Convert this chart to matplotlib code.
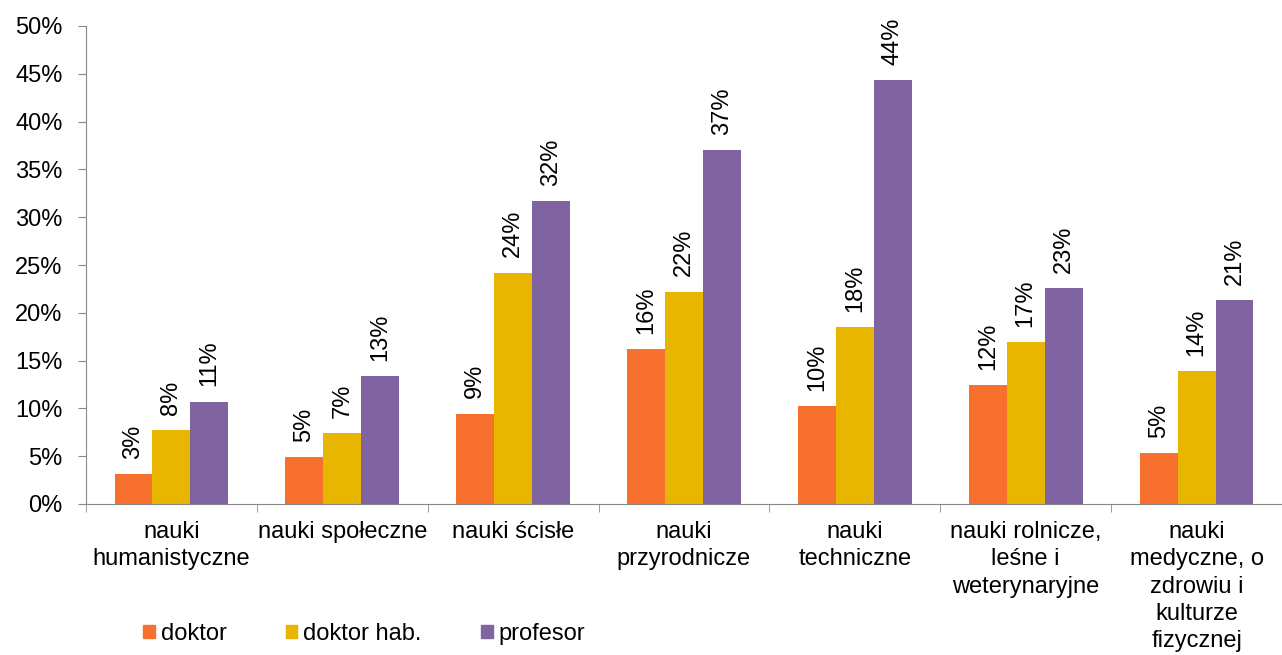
import numpy as np
import matplotlib
matplotlib.use("Agg")
import matplotlib.pyplot as plt
from matplotlib.patches import Patch

plt.rcParams['font.family'] = ['Liberation Sans', 'DejaVu Sans']

categories = ["nauki\nhumanistyczne", "nauki społeczne", "nauki ścisłe",
              "nauki\nprzyrodnicze", "nauki\ntechniczne",
              "nauki rolnicze,\nleśne i\nweterynaryjne",
              "nauki\nmedyczne, o\nzdrowiu i\nkulturze\nfizycznej"]
series_names = ["doktor", "doktor hab.", "profesor"]
doktor = [3.1, 4.9, 9.45, 16.2, 10.2, 12.4, 5.3]
doktor_hab = [7.7, 7.4, 24.2, 22.2, 18.5, 16.9, 13.9]
profesor = [10.7, 13.4, 31.7, 37.0, 44.3, 22.6, 21.3]
colors = ["#F7702D", "#E8B500", "#8064A2"]
yticks = [0, 5, 10, 15, 20, 25, 30, 35, 40, 45, 50]

FS = 17

fig = plt.figure(figsize=(12.82, 6.55), dpi=100)
ax = fig.add_axes([86 / 1282, 151 / 655, 1196 / 1282, 478 / 655])

x = np.arange(len(categories))
w = 0.222
for i, (vals, name, col) in enumerate(zip([doktor, doktor_hab, profesor], series_names, colors)):
    pos = x + (i - 1) * w
    ax.bar(pos, vals, width=w, color=col, label=name)
    for px, v in zip(pos, vals):
        ax.annotate(f"{v:.0f}%", (px, v), xytext=(0, 11), textcoords="offset points",
                    rotation=90, ha="center", va="bottom", fontsize=FS)

ax.set_xlim(-0.5, len(categories) - 0.5)
ax.set_ylim(0, 50)
ax.set_yticks(yticks)
ax.set_yticklabels([f"{t}%" for t in yticks], fontsize=FS)
ax.set_xticks(x)
ax.set_xticklabels(categories, fontsize=FS, linespacing=1.32, va="top")
ax.tick_params(axis="x", length=0, pad=12)
ax.set_xticks(np.arange(len(categories) + 1) - 0.5, minor=True)
ax.tick_params(axis="x", which="minor", length=6, color="#888888")
ax.tick_params(axis="y", length=6, color="#888888", pad=11)

for s in ["top", "right"]:
    ax.spines[s].set_visible(False)
for s in ["left", "bottom"]:
    ax.spines[s].set_color("#888888")

handles = [Patch(color=c) for c in colors]
fig.legend(handles, series_names, loc="center left", bbox_to_anchor=(143 / 1282, 1 - 634 / 655),
           ncol=3, frameon=False, fontsize=FS, handlelength=0.5, handleheight=0.5,
           handletextpad=0.25, columnspacing=2.5, borderpad=0, borderaxespad=0)

fig.savefig("out.png", dpi=100)
